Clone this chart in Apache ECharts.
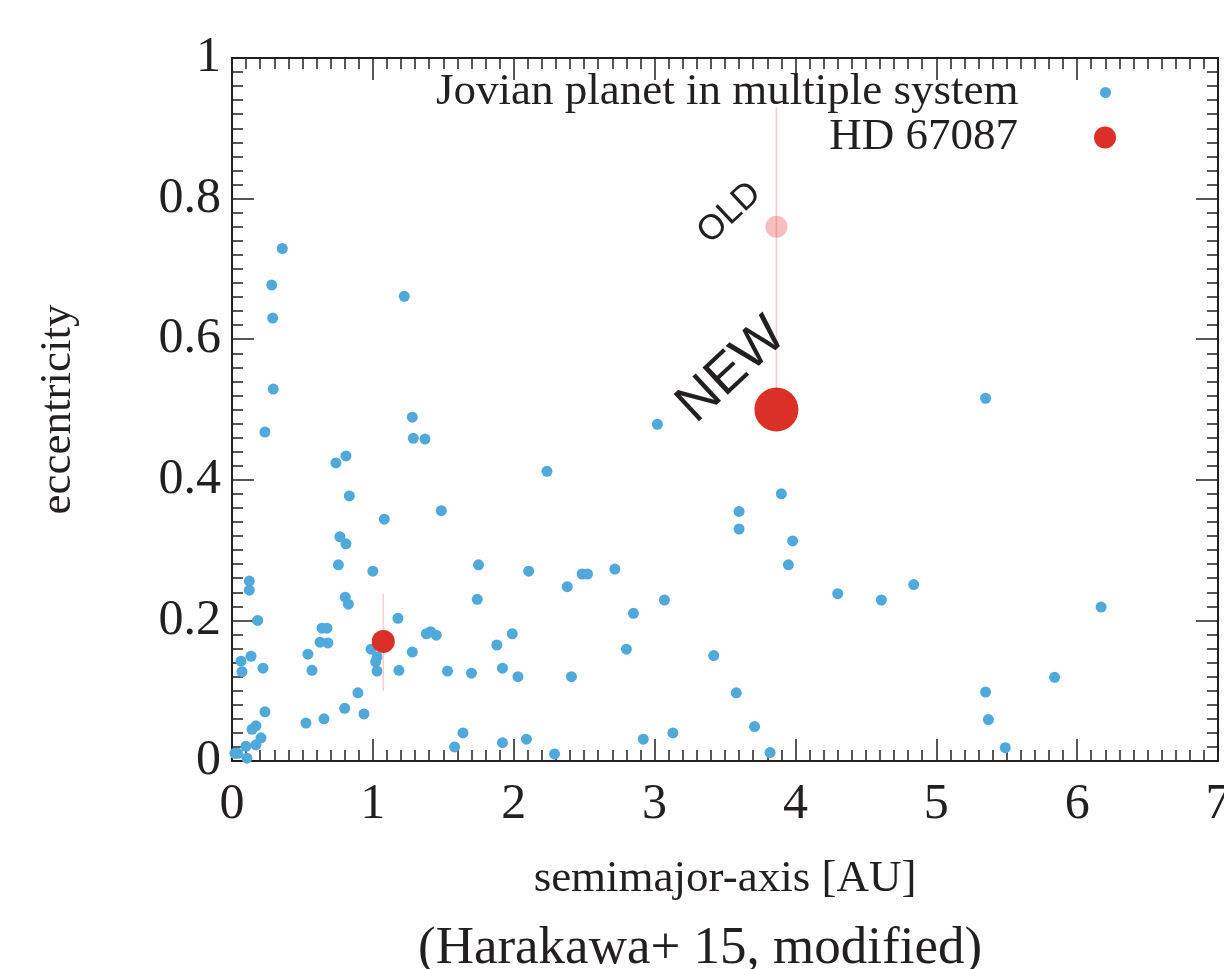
<!DOCTYPE html>
<html><head><meta charset="utf-8">
<script src="https://cdn.jsdelivr.net/npm/echarts@6/dist/echarts.min.js"></script>
<style>html,body{margin:0;padding:0;background:#fff;overflow:hidden}#c{width:1224px;height:969px}</style>
</head><body><div id="c"></div>
<script>
// semimajor-axis [AU], eccentricity
const jovianPoints = [
  [0.357,0.729],[0.282,0.677],[0.289,0.630],[1.223,0.661],[0.293,0.529],[0.234,0.468],
  [1.28,0.489],[1.287,0.459],[1.37,0.458],[0.738,0.424],[0.809,0.434],[2.236,0.412],
  [3.02,0.479],[5.35,0.516],[0.833,0.377],[1.486,0.356],[1.081,0.344],[3.60,0.355],
  [3.60,0.330],[3.90,0.380],[3.98,0.313],[3.95,0.279],[0.766,0.319],[0.809,0.309],
  [0.755,0.279],[1.0,0.270],[1.75,0.279],[2.106,0.270],[2.38,0.248],[2.486,0.266],
  [2.524,0.266],[2.718,0.273],[0.123,0.256],[0.123,0.243],[0.182,0.200],[0.804,0.233],
  [0.826,0.223],[1.741,0.230],[1.178,0.203],[3.07,0.229],[2.85,0.210],[4.30,0.238],
  [4.61,0.229],[4.84,0.251],[6.17,0.219],
  [0.639,0.189],[0.674,0.189],[0.625,0.169],[0.681,0.168],[0.539,0.152],[0.135,0.149],
  [0.064,0.142],[0.071,0.127],[0.220,0.132],[0.568,0.129],[0.987,0.159],[1.03,0.148],
  [1.02,0.141],[1.03,0.128],[1.185,0.129],[1.28,0.155],[1.38,0.181],[1.41,0.184],
  [1.45,0.179],[0.894,0.097],[0.80,0.075],[0.937,0.067],[0.653,0.060],[0.525,0.054],
  [0.234,0.070],[0.206,0.033],[0.17,0.050],[0.142,0.045],[0.17,0.023],[0.099,0.021],
  [0.04,0.011],[0.02,0.011],[0.106,0.004],
  [1.88,0.165],[1.99,0.181],[1.53,0.128],[1.70,0.125],[1.92,0.132],[2.03,0.120],
  [2.41,0.120],[1.64,0.040],[1.58,0.020],[1.92,0.026],[2.09,0.031],[2.29,0.010],
  [2.80,0.159],[3.42,0.150],[3.58,0.097],[5.35,0.098],[5.84,0.119],[5.37,0.059],
  [3.71,0.049],[3.13,0.040],[2.92,0.031],[3.82,0.012],[5.49,0.019]
];
const hd67087Points = [[1.074,0.170],[3.865,0.500]];
const hd67087PointLabels = ['', 'NEW'];
const hd67087OldPoint = [[3.865,0.760]];
const hd67087OldLabel = 'OLD';
const errorBarInner = [[1.074,0.100],[1.074,0.238]];
const errorBarOuter = [[3.865,0.500],[3.865,0.930]];
const xTickValues = [0,1,2,3,4,5,6,7];
const yTickValues = [0,0.2,0.4,0.6,0.8,1];
const seriesNames = ['Jovian planet in multiple system','HD 67087'];

const INK = '#231f20';
const BLUE = '#4FAADB';
const RED = '#DA3027';
const SERIF = 'Liberation Serif';
const SANS = 'Liberation Sans';

const chart = echarts.init(document.getElementById('c'), null, {renderer:'canvas'});

function axisCommon(showLabel){
  return {
    type:'value',
    axisLine:{show:true, onZero:false, lineStyle:{color:INK, width:2}},
    axisTick:{show:true, inside:true, length:22, lineStyle:{color:INK, width:1.5}},
    minorTick:{show:true, splitNumber:10, length:11, lineStyle:{color:INK, width:1.5}},
    splitLine:{show:false},
    minorSplitLine:{show:false},
    axisLabel:{show:showLabel, color:INK, fontFamily:SERIF, fontSize:50}
  };
}
const xMin = xTickValues[0], xMax = xTickValues[xTickValues.length-1];
const yMin = yTickValues[0], yMax = yTickValues[yTickValues.length-1];

const xBottom = Object.assign(axisCommon(true), {
  min:xMin, max:xMax, interval:1, position:'bottom',
  name:'semimajor-axis [AU]', nameLocation:'middle', nameGap:96,
  nameTextStyle:{color:INK, fontFamily:SERIF, fontSize:45, lineHeight:44}
});
xBottom.axisLabel.margin = 19;
const xTop = Object.assign(axisCommon(false), {min:xMin, max:xMax, interval:1, position:'top'});
const yLeft = Object.assign(axisCommon(true), {
  min:yMin, max:yMax, interval:0.2, position:'left',
  name:'eccentricity', nameLocation:'middle', nameGap:152,
  nameTextStyle:{color:INK, fontFamily:SERIF, fontSize:45, lineHeight:44}
});
yLeft.axisLabel.margin = 11;
const yRight = Object.assign(axisCommon(false), {min:yMin, max:yMax, interval:0.2, position:'right'});

const legendText = {color:INK, fontFamily:SERIF, fontSize:45, lineHeight:44};

chart.setOption({
  animation:false,
  backgroundColor:'#ffffff',
  title:{text:'(Harakawa+ 15, modified)', left:413, top:918,
    textStyle:{color:INK, fontFamily:SERIF, fontSize:53, fontWeight:'normal', lineHeight:53}},
  grid:{left:232, right:6, top:58, bottom:208, containLabel:false, outerBoundsMode:'none'},
  legend:[
    {data:[seriesNames[0]], orient:'vertical', align:'right', right:113, top:70, padding:0,
     icon:'circle', itemWidth:164, itemHeight:11, textStyle:legendText, selectedMode:false},
    {data:[seriesNames[1]], orient:'vertical', align:'right', right:108, top:115, padding:0,
     icon:'circle', itemWidth:164, itemHeight:22, textStyle:legendText, selectedMode:false}
  ],
  xAxis:[xBottom, xTop],
  yAxis:[yLeft, yRight],
  series:[
    {name:seriesNames[0], type:'scatter', data:jovianPoints, symbolSize:11,
     itemStyle:{color:BLUE, opacity:1}, z:2, silent:true},
    {name:'HD 67087 error (old/new)', type:'line', data:errorBarOuter, symbol:'none',
     lineStyle:{color:'#f6d0ce', width:1.6}, z:3, silent:true},
    {name:'HD 67087 error', type:'line', data:errorBarInner, symbol:'none',
     lineStyle:{color:'#f6d0ce', width:1.6}, z:3, silent:true},
    {name:'HD 67087 (old)', type:'scatter', data:hd67087OldPoint.map(p=>({value:p})),
     symbolSize:22, itemStyle:{color:'rgba(218,48,39,0.38)'}, z:4, silent:true,
     label:{show:true, formatter:hd67087OldLabel, position:'inside', rotate:43, offset:[-25,-42],
       color:INK, opacity:1, textBorderWidth:0, fontFamily:SANS, fontSize:35}},
    {name:seriesNames[1], type:'scatter', z:5, silent:true,
     itemStyle:{color:RED, opacity:1},
     data:hd67087Points.map((p,i)=>({
       value:p,
       symbolSize: hd67087PointLabels[i] ? 44 : 23,
       label: hd67087PointLabels[i] ? {show:true, formatter:hd67087PointLabels[i], position:'inside',
         rotate:43, offset:[-6,-59], color:INK, textBorderWidth:0, fontFamily:SANS, fontSize:54} : {show:false}
     }))}
  ]
});
</script></body></html>
